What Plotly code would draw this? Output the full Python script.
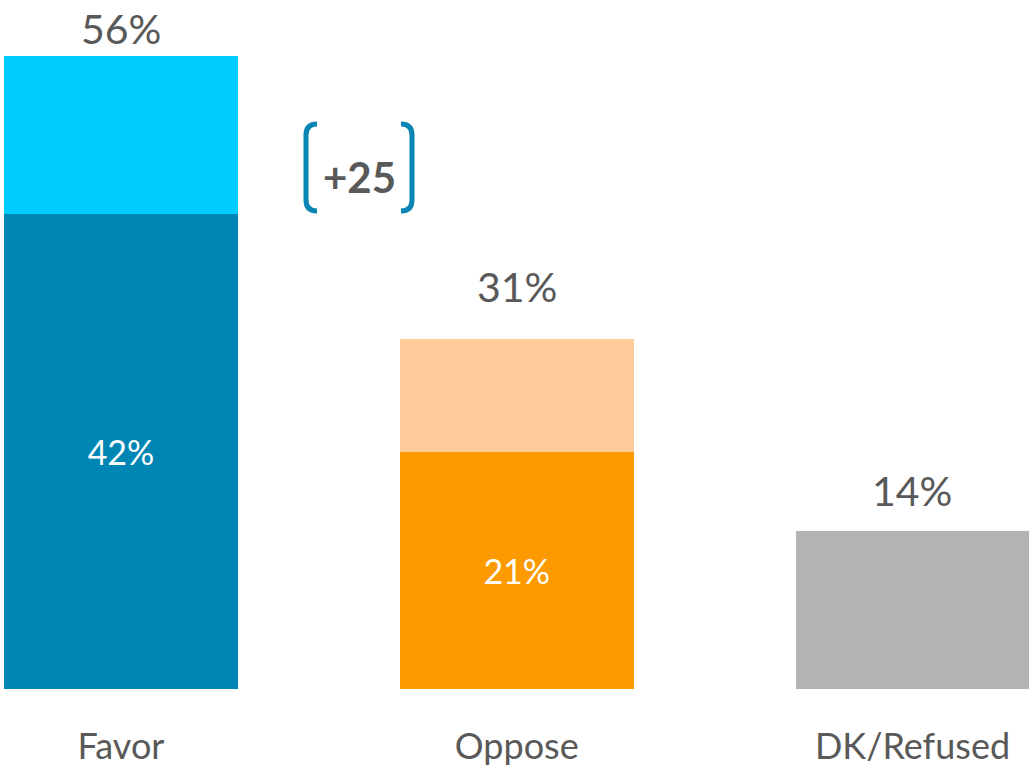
import plotly.graph_objects as go

# Survey responses (percent)
categories = ["Favor", "Oppose", "DK/Refused"]
strongly = [42, 21, 14]          # strongly favor / strongly oppose / DK
totals = [56, 31, 14]            # total favor / total oppose / DK
strong_labels = ["42%", "21%", ""]

base_colors = ["#0086B4", "#FC9A00", "#B3B3B3"]
top_colors = ["#00CCFF", "#FECB99", "#B3B3B3"]

FONT = "Lato, 'Open Sans', sans-serif"
GREY = "#595959"

W, H = 1029, 768
M_B = 79
Y_MAX = 60.97
X_MIN, X_MAX = -0.3057, 2.2944

top_part = [t - s for t, s in zip(totals, strongly)]
x = list(range(len(categories)))

fig = go.Figure()
fig.add_trace(go.Bar(
    x=x, y=strongly, marker=dict(color=base_colors, line=dict(width=0)),
    text=strong_labels, textposition="inside", insidetextanchor="middle",
    textfont=dict(family=FONT, size=34, color="white"),
    hoverinfo="skip",
))
fig.add_trace(go.Bar(
    x=x, y=top_part, marker=dict(color=top_colors, line=dict(width=0)),
    hoverinfo="skip",
))

# total labels above each bar
shifts = [2, 27, 15]
for i, t in enumerate(totals):
    fig.add_annotation(x=i, y=t, text=f"{t}%", showarrow=False,
                       yanchor="bottom", yshift=shifts[i], borderpad=0,
                       font=dict(family=FONT, size=41, color=GREY))

# net margin bracket
def px_x(p):
    return X_MIN + p / W * (X_MAX - X_MIN)

def px_y(p):
    return (H - M_B - p) / (H - M_B) * Y_MAX

net = totals[0] - totals[1]
y_top, y_bot = 124, 211
lx, rx = 306, 412
hook = 11
bracket_color = "#0A86B4"
left = (f"M {px_x(lx + hook)},{px_y(y_top)} Q {px_x(lx)},{px_y(y_top)} {px_x(lx)},{px_y(y_top + hook)} "
        f"L {px_x(lx)},{px_y(y_bot - hook)} Q {px_x(lx)},{px_y(y_bot)} {px_x(lx + hook)},{px_y(y_bot)}")
right = (f"M {px_x(rx - hook)},{px_y(y_top)} Q {px_x(rx)},{px_y(y_top)} {px_x(rx)},{px_y(y_top + hook)} "
         f"L {px_x(rx)},{px_y(y_bot - hook)} Q {px_x(rx)},{px_y(y_bot)} {px_x(rx - hook)},{px_y(y_bot)}")
for path in (left, right):
    fig.add_shape(type="path", path=path, xref="x", yref="y",
                  line=dict(color=bracket_color, width=5))
fig.add_annotation(x=px_x(359), y=px_y(177), text=f"<b>+{net}</b>", showarrow=False,
                   font=dict(family=FONT, size=42, color=GREY))

fig.update_layout(
    width=W, height=H, barmode="stack", bargap=0.409, showlegend=False,
    margin=dict(l=0, r=0, t=0, b=M_B),
    paper_bgcolor="white", plot_bgcolor="white",
    xaxis=dict(range=[X_MIN, X_MAX], tickvals=x, ticktext=categories,
               showgrid=False, zeroline=False, showline=False, ticks="",
               tickfont=dict(family=FONT, size=36, color=GREY),
               ticklabelstandoff=33, automargin=False),
    yaxis=dict(range=[0, Y_MAX], visible=False, automargin=False),
)

fig.write_html("out.html")
